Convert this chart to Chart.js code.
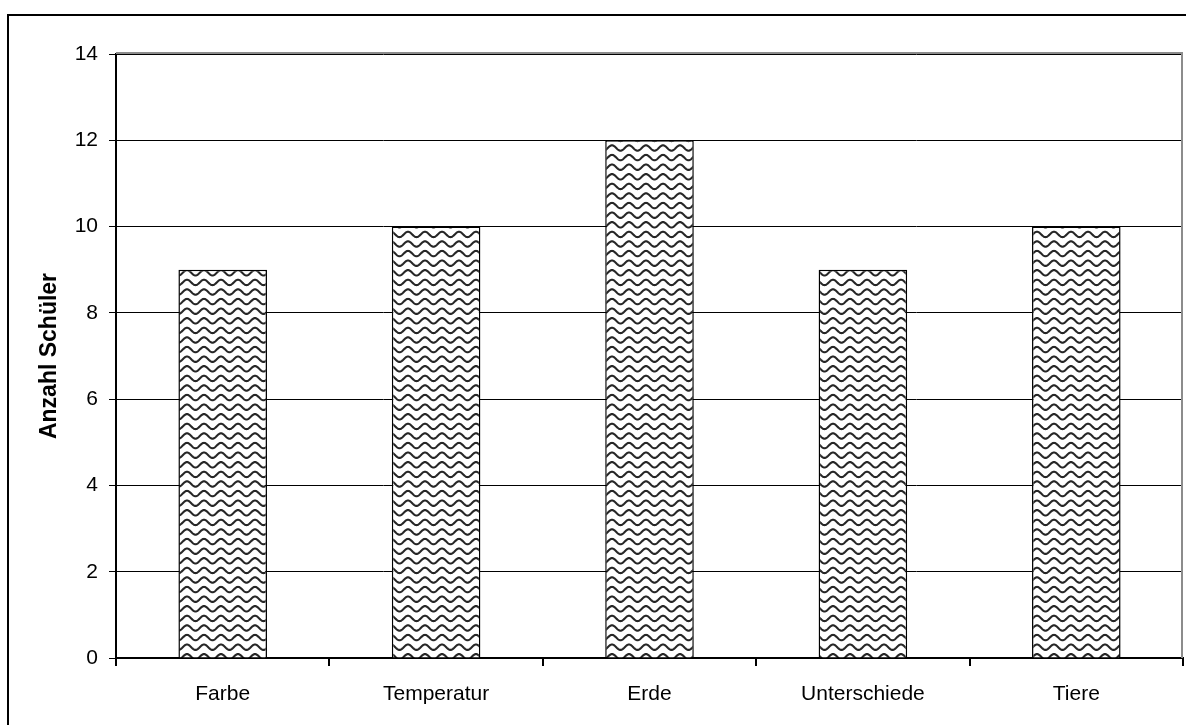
<!DOCTYPE html>
<html>
<head>
<meta charset="utf-8">
<script src="https://cdn.jsdelivr.net/npm/chart.js@4/dist/chart.umd.min.js"></script>
<style>
  html, body { margin: 0; padding: 0; background: #fff; }
  #wrap { position: relative; width: 1186px; height: 725px; }
</style>
</head>
<body>
<div id="wrap"><canvas id="chart" width="1186" height="725"></canvas></div>
<script>
// Survey: number of pupils per topic
const categories = ['Farbe', 'Temperatur', 'Erde', 'Unterschiede', 'Tiere'];
const schueler = [9, 10, 12, 9, 10];
const yMin = 0;
const yMax = 14;
const yStep = 2;
const yTitle = 'Anzahl Schüler';

// Wavy hatch fill used for the bars
function makeWavePattern() {
  const w = 17, h = 48, rows = 5;
  const c = document.createElement('canvas');
  c.width = w; c.height = h;
  const g = c.getContext('2d');
  g.fillStyle = '#fff';
  g.fillRect(0, 0, w, h);
  g.strokeStyle = '#262626';
  g.lineWidth = 2.1;
  const amp = 2.7;
  for (let r = -1; r <= rows; r++) {
    const y0 = r * (h / rows) + 4;
    g.beginPath();
    for (let x = -2; x <= w + 2; x += 0.5) {
      const y = y0 - amp * Math.cos((x / w) * Math.PI * 2);
      if (x === -2) g.moveTo(x, y); else g.lineTo(x, y);
    }
    g.stroke();
  }
  return g.createPattern(c, 'repeat');
}

// Outer frame lines and the grey plot-area edges
const framePlugin = {
  id: 'frame',
  afterDraw(chart) {
    const ctx = chart.ctx;
    const a = chart.chartArea;
    ctx.save();
    ctx.strokeStyle = '#8c8c8c';
    ctx.lineWidth = 2;
    ctx.beginPath();
    ctx.moveTo(a.left, a.top - 1);
    ctx.lineTo(a.right - 1, a.top - 1);
    ctx.lineTo(a.right - 1, a.bottom);
    ctx.stroke();
    ctx.strokeStyle = '#000';
    ctx.lineWidth = 2;
    ctx.beginPath();
    ctx.moveTo(8, chart.height);
    ctx.lineTo(8, 15);
    ctx.lineTo(chart.width, 15);
    ctx.stroke();
    ctx.restore();
  }
};

const font = { family: '"Liberation Sans", Arial, sans-serif', size: 21 };

new Chart(document.getElementById('chart'), {
  type: 'bar',
  data: {
    labels: categories,
    datasets: [{
      data: schueler,
      backgroundColor: makeWavePattern(),
      borderColor: '#000',
      borderWidth: 1.5,
      barPercentage: 0.415,
      categoryPercentage: 1.0
    }]
  },
  options: {
    responsive: false,
    animation: false,
    layout: { padding: { left: 0, top: 54, right: 3, bottom: 0 } },
    plugins: { legend: { display: false }, tooltip: { enabled: false } },
    scales: {
      x: {
        afterFit(s) { s.height = 67; },
        grid: {
          offset: true,
          drawOnChartArea: false,
          drawTicks: true,
          tickLength: 8,
          color: '#000',
          lineWidth: 2
        },
        border: { color: '#000', width: 2 },
        ticks: { color: '#000', font: font, padding: 16 }
      },
      y: {
        min: yMin,
        max: yMax,
        afterFit(s) { s.width = 116; },
        grid: {
          color: '#000',
          lineWidth: 1,
          tickLength: 7
        },
        border: { color: '#000', width: 2 },
        ticks: { stepSize: yStep, color: '#000', font: font, padding: 11 },
        title: {
          display: true,
          text: yTitle,
          color: '#000',
          font: { family: font.family, size: 23, weight: 'bold' },
          padding: { top: 36, bottom: 0 }
        }
      }
    }
  },
  plugins: [framePlugin]
});
</script>
</body>
</html>
